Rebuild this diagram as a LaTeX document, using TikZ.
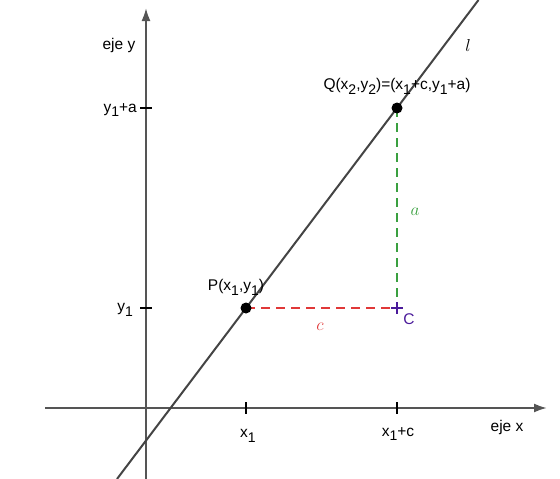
\documentclass[tikz,border=0pt]{standalone}
\usepackage{fontspec}
\setmainfont{Liberation Sans}
\usetikzlibrary{arrows.meta}
\definecolor{axisgray}{HTML}{555555}
\definecolor{linegray}{HTML}{444444}
\definecolor{dred}{HTML}{E03838}
\definecolor{dgreen}{HTML}{3AA040}
\definecolor{cpurple}{HTML}{4A1A9A}
\newcommand{\sbs}[1]{\raisebox{-0.6ex}{\fontsize{14}{14}\selectfont #1}}
\tikzset{
  axis/.style={axisgray, line width=2pt, -{Latex[length=13pt,width=9pt]}},
  tickmark/.style={black, line width=2pt},
  lbl/.style={font=\fontsize{15.5}{18}\selectfont, inner sep=1pt},
  pt/.style={circle, fill=black, inner sep=0pt, minimum size=11pt},
}
\begin{document}
\begin{tikzpicture}[x=1pt,y=-1pt]
\useasboundingbox (0,0) rectangle (560,479);
% axes
\coordinate (xs) at (45,408);
\coordinate (xe) at (547,408);
\coordinate (ys) at (146,479);
\coordinate (ye) at (146,8);
\draw[axis] (xs) -- (xe);
\draw[axis] (ys) -- (ye);
% line l
\coordinate (lb) at (117,479);
\coordinate (lt) at (478.5,0);
\draw[linegray, line width=2pt] (lb) -- (lt);
% points
\coordinate (Pc) at (246,308);
\coordinate (Qc) at (397,108);
\coordinate (Cc) at (397,308);
% dashed legs
\draw[dred, line width=2pt, dash pattern=on 9pt off 6pt] (Pc) -- (Cc);
\draw[dgreen, line width=2pt, dash pattern=on 9pt off 6pt] (Qc) -- (Cc);
% ticks
\foreach \x in {246, 397} {
  \draw[tickmark] (\x,402) -- (\x,414);
}
\foreach \y in {308, 108} {
  \draw[tickmark] (140,\y) -- (152,\y);
}
% C mark
\draw[cpurple, line width=2pt] (391,308) -- (403,308) (397,302) -- (397,314);
\node[pt] (P) at (Pc) {};
\node[pt] (Q) at (Qc) {};
% labels
\node[lbl] (ejey) at (119,45) {eje y};
\node[lbl, anchor=east] (ya) at (138,110) {y\sbs{1}+a};
\node[lbl, anchor=east] (y1) at (134,310) {y\sbs{1}};
\node[lbl] (x1) at (248,436) {x\sbs{1}};
\node[lbl] (xc) at (398,434) {x\sbs{1}+c};
\node[lbl] (ejex) at (507,427) {eje x};
\node[lbl] (Ql) at (397,86) {Q(x\sbs{2},y\sbs{2})=(x\sbs{1}+c,y\sbs{1}+a)};
\node[lbl] (Pl) at (236,287) {P(x\sbs{1},y\sbs{1})};
\node[lbl, text=dred, font=\fontsize{17}{19}\selectfont] (cl) at (320,327) {$c$};
\node[lbl, text=dgreen, font=\fontsize{17}{19}\selectfont] (al) at (415,212) {$a$};
\node[lbl, text=cpurple] (Cl) at (409,319) {C};
\node[lbl, font=\fontsize{17}{19}\selectfont] (ll) at (468,45) {$l$};
\end{tikzpicture}
\end{document}
